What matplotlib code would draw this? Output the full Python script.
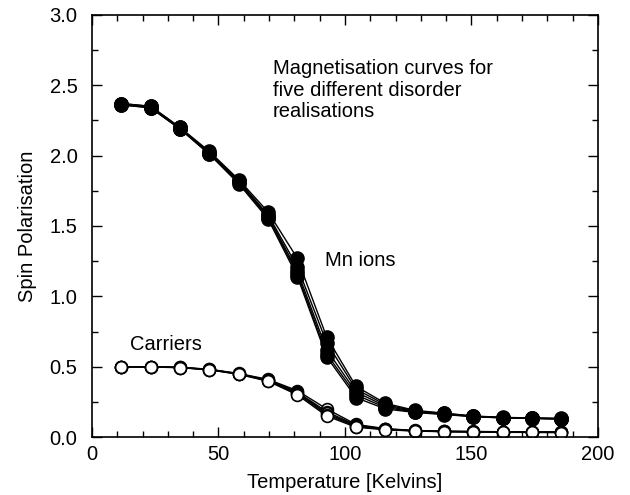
import matplotlib.pyplot as plt
from matplotlib.ticker import MultipleLocator

plt.rcParams["font.family"] = ["Liberation Sans", "DejaVu Sans"]

# --- Data ---
temps = [11.6, 23.2, 34.8, 46.4, 58.0, 69.6, 81.2, 92.8,
         104.4, 116.0, 127.6, 139.2, 150.8, 162.4, 174.0, 185.6]

# Mn ion polarisation, five disorder realisations
mn_1 = [2.37, 2.35, 2.20, 2.03, 1.83, 1.60, 1.27, 0.71, 0.36, 0.24, 0.190, 0.170, 0.150, 0.140, 0.136, 0.133]
mn_2 = [2.37, 2.35, 2.20, 2.02, 1.82, 1.58, 1.21, 0.67, 0.34, 0.23, 0.186, 0.168, 0.148, 0.139, 0.135, 0.131]
mn_3 = [2.37, 2.34, 2.19, 2.02, 1.82, 1.57, 1.18, 0.62, 0.32, 0.22, 0.182, 0.166, 0.147, 0.138, 0.134, 0.130]
mn_4 = [2.36, 2.34, 2.19, 2.01, 1.81, 1.56, 1.16, 0.59, 0.30, 0.21, 0.178, 0.163, 0.146, 0.137, 0.133, 0.129]
mn_5 = [2.36, 2.34, 2.19, 2.01, 1.80, 1.55, 1.14, 0.57, 0.28, 0.20, 0.175, 0.160, 0.145, 0.136, 0.132, 0.128]

# Carrier polarisation, five disorder realisations
car_1 = [0.500, 0.500, 0.496, 0.482, 0.452, 0.410, 0.330, 0.200, 0.090, 0.060, 0.047, 0.042, 0.040, 0.038, 0.037, 0.036]
car_2 = [0.500, 0.500, 0.495, 0.481, 0.450, 0.406, 0.320, 0.180, 0.085, 0.058, 0.046, 0.041, 0.039, 0.037, 0.036, 0.035]
car_3 = [0.499, 0.499, 0.494, 0.480, 0.449, 0.403, 0.315, 0.170, 0.080, 0.056, 0.045, 0.040, 0.038, 0.036, 0.035, 0.034]
car_4 = [0.499, 0.499, 0.494, 0.479, 0.447, 0.400, 0.308, 0.160, 0.075, 0.054, 0.044, 0.039, 0.037, 0.035, 0.034, 0.033]
car_5 = [0.498, 0.498, 0.493, 0.478, 0.446, 0.397, 0.300, 0.150, 0.070, 0.052, 0.043, 0.038, 0.036, 0.034, 0.033, 0.032]

mn_curves = [mn_1, mn_2, mn_3, mn_4, mn_5]
car_curves = [car_1, car_2, car_3, car_4, car_5]

FS = 14.5

# --- Plot ---
fig = plt.figure(figsize=(6.3, 4.95), dpi=100)
ax = fig.add_axes([0.146, 0.117, 0.803, 0.853])

for y in mn_curves:
    ax.plot(temps, y, color="black", lw=1.0, marker="o", ms=9.5,
            mfc="black", mec="black")

for y in car_curves:
    ax.plot(temps, y, color="black", lw=1.0, marker="o", ms=8.5,
            mfc="white", mec="black", mew=1.2)

ax.set_xlim(0, 200)
ax.set_ylim(0, 3.0)
ax.xaxis.set_major_locator(MultipleLocator(50))
ax.xaxis.set_minor_locator(MultipleLocator(10))
ax.yaxis.set_major_locator(MultipleLocator(0.5))
ax.yaxis.set_minor_locator(MultipleLocator(0.25))
ax.yaxis.set_major_formatter(plt.FormatStrFormatter("%.1f"))

ax.tick_params(which="both", direction="in", top=True, right=True, width=1.0)
ax.tick_params(which="major", length=7)
ax.tick_params(which="minor", length=4)
ax.tick_params(axis="x", labelsize=FS, pad=6)
ax.tick_params(axis="y", labelsize=FS, pad=10.5)
for spine in ax.spines.values():
    spine.set_linewidth(1.2)

ax.set_xlabel("Temperature [Kelvins]", fontsize=FS, labelpad=6)
ax.set_ylabel("Spin Polarisation", fontsize=FS, labelpad=9)

ax.text(71.5, 2.683, "Magnetisation curves for\nfive different disorder\nrealisations",
        fontsize=FS, ha="left", va="top", linespacing=1.15)
ax.text(92, 1.215, "Mn ions", fontsize=FS, ha="left", va="baseline")
ax.text(15, 0.618, "Carriers", fontsize=FS, ha="left", va="baseline")

fig.savefig("out.png", dpi=100)
